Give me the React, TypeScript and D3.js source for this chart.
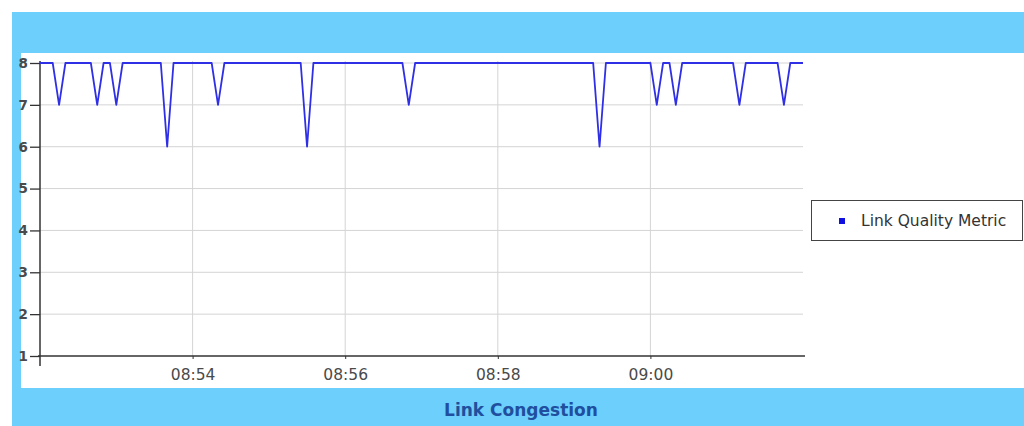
import * as d3 from 'd3';
import React, { useEffect, useRef } from 'react';

// samples of the link quality metric (only the points where the line bends)
const sampleTimes = [
  '08:52:00', '08:52:10', '08:52:15', '08:52:20',
  '08:52:40', '08:52:45', '08:52:50',
  '08:52:55', '08:53:00', '08:53:05',
  '08:53:35', '08:53:40', '08:53:45',
  '08:54:15', '08:54:20', '08:54:25',
  '08:55:25', '08:55:30', '08:55:35',
  '08:56:45', '08:56:50', '08:56:55',
  '08:59:15', '08:59:20', '08:59:25',
  '09:00:00', '09:00:05', '09:00:10',
  '09:00:15', '09:00:20', '09:00:25',
  '09:01:05', '09:01:10', '09:01:15',
  '09:01:40', '09:01:45', '09:01:50', '09:02:00',
];
const quality = [
  8, 8, 7, 8,
  8, 7, 8,
  8, 7, 8,
  8, 6, 8,
  8, 7, 8,
  8, 6, 8,
  8, 7, 8,
  8, 6, 8,
  8, 7, 8,
  8, 7, 8,
  8, 7, 8,
  8, 7, 8, 8,
];
const xTickLabels = ['08:54', '08:56', '08:58', '09:00'];
const yTicks = [1, 2, 3, 4, 5, 6, 7, 8];
const seriesName = 'Link Quality Metric';
const chartTitle = 'Link Congestion';

const parseTime = d3.timeParse('%H:%M:%S');
const parseTick = d3.timeParse('%H:%M');

export default function App() {
  const ref = useRef<SVGSVGElement>(null);

  useEffect(() => {
    const svg = d3.select(ref.current);
    svg.selectAll('*').remove();

    const width = 1024, height = 426;
    const left = 40, right = 803, top = 63, bottom = 356;
    const font = 'Tahoma, "DejaVu Sans", sans-serif';

    const data = sampleTimes.map((t, i) => ({ t: parseTime(t) as Date, v: quality[i] }));

    const x = d3.scaleTime()
      .domain([parseTime('08:52:00') as Date, parseTime('09:02:00') as Date])
      .range([left, right]);
    const y = d3.scaleLinear().domain([1, 8]).range([bottom, top]);

    // frame
    svg.append('rect').attr('x', 0).attr('y', 0).attr('width', width).attr('height', height).attr('fill', '#fff');
    svg.append('rect').attr('x', 12).attr('y', 12).attr('width', width - 12).attr('height', height - 12).attr('fill', '#6ccffc');
    svg.append('rect').attr('x', 21).attr('y', 53).attr('width', width - 21).attr('height', 335).attr('fill', '#fff');

    // grid
    svg.append('g')
      .selectAll('line')
      .data(yTicks.slice(1))
      .join('line')
      .attr('x1', left).attr('x2', right)
      .attr('y1', d => y(d)).attr('y2', d => y(d))
      .attr('stroke', '#d4d4d4').attr('stroke-width', 1);

    const tickDates = xTickLabels.map(s => parseTick(s) as Date);
    svg.append('g')
      .selectAll('line')
      .data(tickDates)
      .join('line')
      .attr('x1', d => x(d)).attr('x2', d => x(d))
      .attr('y1', top - 2).attr('y2', bottom)
      .attr('stroke', '#d4d4d4').attr('stroke-width', 1);

    // y axis
    const yAxis = svg.append('g')
      .attr('transform', `translate(${left},0)`)
      .call(d3.axisLeft(y).tickValues(yTicks).tickFormat(d3.format('d')).tickSize(10).tickPadding(2));
    yAxis.select('.domain').remove();
    yAxis.selectAll('line').attr('stroke', '#333').attr('stroke-width', 1.3);
    yAxis.selectAll('text').attr('font-family', font).attr('font-size', 13.5).attr('font-weight', 600).attr('fill', '#4a4a4a');
    svg.append('line')
      .attr('x1', left).attr('x2', left).attr('y1', top - 2).attr('y2', bottom + 10)
      .attr('stroke', '#333').attr('stroke-width', 1.5);

    // x axis
    const xAxis = svg.append('g')
      .attr('transform', `translate(0,${bottom})`)
      .call(d3.axisBottom(x).tickValues(tickDates).tickFormat(d3.timeFormat('%H:%M') as any).tickSize(3).tickPadding(10));
    xAxis.select('.domain').remove();
    xAxis.selectAll('line').attr('stroke', '#333');
    xAxis.selectAll('text').attr('font-family', font).attr('font-size', 15.5).attr('fill', '#4a4a4a');
    svg.append('line')
      .attr('x1', left - 2).attr('x2', right + 2).attr('y1', bottom).attr('y2', bottom)
      .attr('stroke', '#333').attr('stroke-width', 1.5);

    // series
    const line = d3.line<{ t: Date; v: number }>()
      .x(d => x(d.t))
      .y(d => y(d.v));
    svg.append('path')
      .datum(data)
      .attr('d', line)
      .attr('fill', 'none')
      .attr('stroke', '#2f2fe6')
      .attr('stroke-width', 1.8)
      .attr('stroke-linejoin', 'round');

    // legend
    const lg = svg.append('g').attr('transform', 'translate(811,200)');
    lg.append('rect').attr('x', 0.5).attr('y', 0.5).attr('width', 211).attr('height', 40)
      .attr('fill', '#fff').attr('stroke', '#444').attr('stroke-width', 1);
    lg.append('rect').attr('x', 28).attr('y', 18).attr('width', 6).attr('height', 6).attr('fill', '#1010e0');
    lg.append('text').attr('x', 50).attr('y', 26).text(seriesName)
      .attr('font-family', font).attr('font-size', 15.5).attr('fill', '#333');

    // title
    svg.append('text')
      .attr('x', 521).attr('y', 416)
      .attr('text-anchor', 'middle')
      .attr('font-family', font).attr('font-size', 17).attr('font-weight', 'bold')
      .attr('fill', '#1f4f9e')
      .text(chartTitle);
  }, []);

  return (
    <div style={{ position: 'absolute', left: 0, top: 0 }}>
      <svg ref={ref} width={1024} height={426} style={{ display: 'block' }} />
    </div>
  );
}
